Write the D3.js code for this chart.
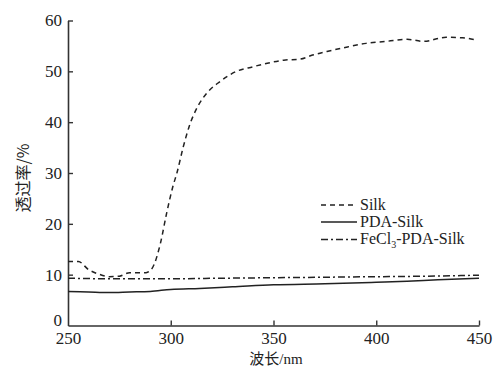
<!DOCTYPE html>
<html>
<head>
<meta charset="utf-8">
<script src="https://cdn.jsdelivr.net/npm/d3@7"></script>
<style>
  body { margin: 0; background: #fff; }
  svg { display: block; }
  text { font-family: "Liberation Serif", "DejaVu Serif", serif; fill: #222; }
</style>
</head>
<body>
<svg id="chart" width="496" height="367"></svg>
<script>
// data
const silk = [
  [250, 12.6], [255, 12.6], [260, 11.0], [265, 10.1], [270, 9.6], [275, 9.7],
  [280, 10.4], [288, 10.4], [291, 11.3], [295, 16.2], [298, 22.1], [301, 27.3],
  [303, 30.0], [306, 35.0], [309, 39.2], [313, 43.0], [317.5, 45.7], [324, 48.0],
  [332, 50.0], [340, 50.9], [347, 51.6], [355, 52.2], [363, 52.4], [369, 53.2],
  [376, 53.9], [386, 54.8], [395, 55.5], [405, 55.9], [415, 56.3], [423, 55.9],
  [434, 56.7], [442, 56.6], [448, 56.2]
];
const pdaSilk = [
  [250, 6.7], [260, 6.6], [270, 6.5], [280, 6.6], [290, 6.7], [300, 7.1],
  [314, 7.3], [330, 7.6], [350, 8.0], [375, 8.2], [400, 8.5], [415, 8.7],
  [430, 9.0], [450, 9.3]
];
const fecl3Silk = [
  [250, 9.3], [270, 9.2], [300, 9.2], [325, 9.3], [350, 9.4], [375, 9.5],
  [400, 9.6], [425, 9.7], [450, 9.9]
];
const xTicks = [250, 300, 350, 400, 450];
const yTicks = [0, 10, 20, 30, 40, 50, 60];

const svg = d3.select('#chart');
const x = d3.scaleLinear().domain([250, 450]).range([68, 479]);
const y = d3.scaleLinear().domain([0, 60]).range([325.5, 20.5]);

const line = d3.line().x(d => x(d[0])).y(d => y(d[1])).curve(d3.curveMonotoneX);

// axes, ticks pointing inward
const xAxis = svg.append('g')
  .attr('transform', `translate(0,${y(0)})`)
  .call(d3.axisBottom(x).tickValues(xTicks).tickSizeInner(-5).tickSizeOuter(0).tickPadding(5));
const yAxis = svg.append('g')
  .attr('transform', `translate(${x(250)},0)`)
  .call(d3.axisLeft(y).tickValues(yTicks).tickSizeInner(-5).tickSizeOuter(0).tickPadding(6));

[xAxis, yAxis].forEach(g => {
  g.select('.domain').attr('stroke', '#333').attr('stroke-width', 1.6);
  g.selectAll('.tick line').attr('stroke', '#333').attr('stroke-width', 1.4);
  g.selectAll('.tick text')
    .style('font-family', '"Liberation Serif", serif')
    .style('font-size', '17px')
    .attr('fill', '#222');
});
// no tick line at the corner
xAxis.selectAll('.tick').filter(d => d === 250).select('line').remove();
yAxis.selectAll('.tick').filter(d => d === 0).select('line').remove();
yAxis.selectAll('.tick').filter(d => d === 0).select('text').attr('dy', '0.02em');
xAxis.selectAll('.tick text').attr('dy', '0.8em');

// series
const series = [
  { data: silk, dash: '5,4' },
  { data: pdaSilk, dash: null },
  { data: fecl3Silk, dash: '7,3,2,3' }
];
series.forEach(s => {
  svg.append('path')
    .datum(s.data)
    .attr('d', line)
    .attr('fill', 'none')
    .attr('stroke', '#222')
    .attr('stroke-width', 1.5)
    .attr('stroke-dasharray', s.dash);
});

// axis titles
svg.append('text')
  .attr('transform', 'translate(29,178) rotate(-90)')
  .attr('text-anchor', 'middle')
  .style('font-family', '"Noto Sans CJK SC", serif')
  .style('font-size', '16px')
  .text('透过率/%');

svg.append('text')
  .attr('x', 276)
  .attr('y', 363.5)
  .attr('text-anchor', 'middle')
  .style('font-size', '15px')
  .html('<tspan style="font-family:\'Noto Sans CJK SC\'">波长</tspan>/nm');

// legend
const legend = [
  { label: 'Silk', dash: '5,4', yy: 205 },
  { label: 'PDA-Silk', dash: null, yy: 222 },
  { label: 'FeCl3-PDA-Silk', dash: '7,3,2,3', yy: 239.5 }
];
const lg = svg.append('g');
legend.forEach(l => {
  lg.append('line')
    .attr('x1', 321).attr('x2', 357)
    .attr('y1', l.yy).attr('y2', l.yy)
    .attr('stroke', '#222').attr('stroke-width', 1.4)
    .attr('stroke-dasharray', l.dash);
  const t = lg.append('text')
    .attr('x', 360).attr('y', l.yy + 4.5)
    .style('font-size', '16px');
  if (l.label.startsWith('FeCl3')) {
    t.append('tspan').text('FeCl');
    t.append('tspan').attr('dy', 3.5).style('font-size', '10px').text('3');
    t.append('tspan').attr('dy', -3.5).text('-PDA-Silk');
  } else {
    t.text(l.label);
  }
});
</script>
</body>
</html>
